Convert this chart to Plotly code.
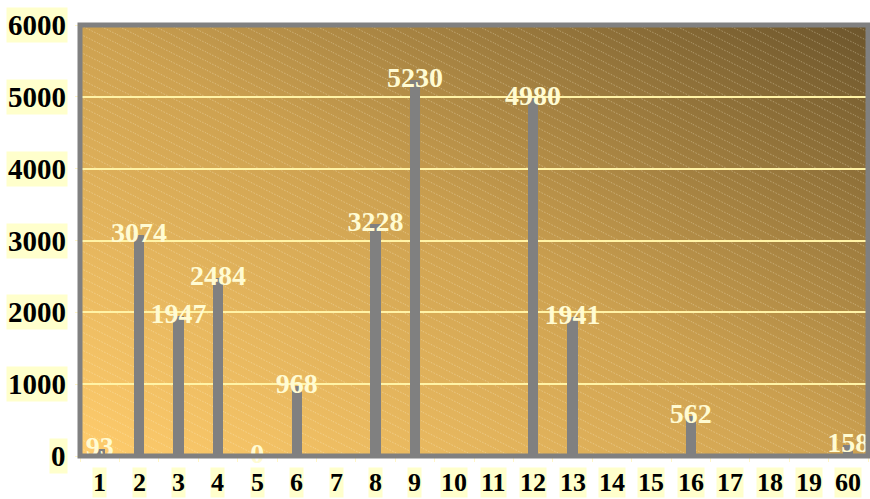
import base64
import plotly.graph_objects as go

# ---- data ----
categories = ["1", "2", "3", "4", "5", "6", "7", "8", "9", "10",
              "11", "12", "13", "14", "15", "16", "17", "18", "19", "60"]
values = [93, 3074, 1947, 2484, 0, 968, None, 3228, 5230, None,
          None, 4980, 1941, None, None, 562, None, None, None, 158]
y_ticks = [0, 1000, 2000, 3000, 4000, 5000, 6000]

# ---- styles ----
FONT = "Liberation Serif"
BAR_COLOR = "#808080"
LABEL_COLOR = "#FFFBD2"
TICK_BG = "#FFFFCC"
GRID_COLOR = "#FFF3A6"

W, H = 788, 431
svg = f'''<svg xmlns="http://www.w3.org/2000/svg" width="{W}" height="{H}" viewBox="0 0 {W} {H}" preserveAspectRatio="none">
<defs>
<linearGradient id="g" x1="0" y1="1" x2="1" y2="0">
<stop offset="0" stop-color="#FFCC6C"/>
<stop offset="0.5" stop-color="#CDA150"/>
<stop offset="1" stop-color="#6C552C"/>
</linearGradient>
<pattern id="p" patternUnits="userSpaceOnUse" width="18" height="9">
<path d="M-18,-9 L36,18 M-18,0 L18,18 M0,-9 L36,9" stroke="#FFF6D8" stroke-opacity="0.33" stroke-width="1" stroke-dasharray="1.5,1.5"/>
</pattern>
</defs>
<rect width="{W}" height="{H}" fill="url(#g)"/>
<rect width="{W}" height="{H}" fill="url(#p)"/>
</svg>'''
bg_src = "data:image/svg+xml;base64," + base64.b64encode(svg.encode()).decode()

fig = go.Figure()
fig.add_trace(go.Bar(
    x=categories, y=values, width=0.26,
    marker=dict(color=BAR_COLOR, line=dict(width=0)),
    hoverinfo="skip",
))
lab_x = [c for c, v in zip(categories, values) if v is not None]
lab_y = [v for v in values if v is not None]
fig.add_trace(go.Scatter(
    x=lab_x, y=lab_y, mode="text",
    text=[f"<b>{v}</b>" for v in lab_y],
    textposition="middle center",
    textfont=dict(family=FONT, size=28, color=LABEL_COLOR),
    cliponaxis=False, hoverinfo="skip",
))

annotations = []
for t in y_ticks:
    annotations.append(dict(
        x=0, xref="paper", y=t, yref="y", xanchor="right", yanchor="middle",
        xshift=-12, text=f"<b>{t}</b>", showarrow=False, bgcolor=TICK_BG,
        borderpad=1, font=dict(family=FONT, size=29, color="black"),
    ))
for i, c in enumerate(categories):
    annotations.append(dict(
        x=i, xref="x", y=0, yref="paper", xanchor="center", yanchor="top",
        yshift=-11, text=f"<b>{c}</b>", showarrow=False, bgcolor=TICK_BG,
        borderpad=0, font=dict(family=FONT, size=26, color="black"),
    ))

fig.update_layout(
    width=870, height=499,
    margin=dict(l=80, r=2, t=25, b=43),
    paper_bgcolor="white", plot_bgcolor="rgba(0,0,0,0)",
    showlegend=False, bargap=0,
    images=[dict(source=bg_src, xref="paper", yref="paper", x=0, y=1,
                 sizex=1, sizey=1, xanchor="left", yanchor="top",
                 sizing="stretch", layer="below")],
    shapes=[dict(type="rect", xref="paper", yref="paper", x0=0, x1=1, y0=0, y1=1,
                 line=dict(color=BAR_COLOR, width=5), layer="above")],
    annotations=annotations,
    xaxis=dict(type="category", categoryorder="array", categoryarray=categories,
               range=[-0.5, len(categories) - 0.5], showgrid=False, zeroline=False,
               showticklabels=False, ticks="outside", tickson="boundaries",
               ticklen=5, tickcolor="#FFF6C8", tickwidth=1),
    yaxis=dict(range=[0, 6000], tickvals=y_ticks, showticklabels=False,
               showgrid=True, gridcolor=GRID_COLOR, gridwidth=2, zeroline=False,
               ticks="outside", ticklen=4, tickcolor="#FFF6C8"),
)

fig.write_html("out.html")
